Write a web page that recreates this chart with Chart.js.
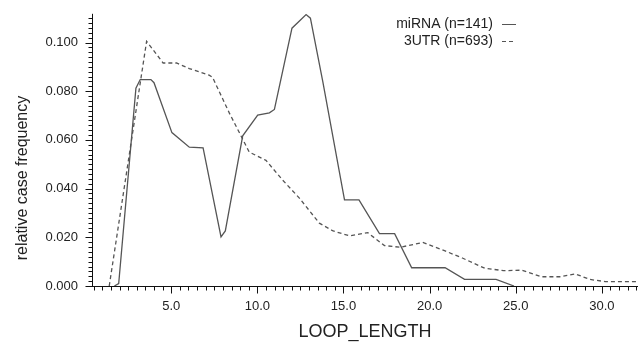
<!DOCTYPE html>
<html><head><meta charset="utf-8">
<script src="https://cdn.jsdelivr.net/npm/chart.js@4/dist/chart.umd.min.js"></script>
<style>html,body{margin:0;padding:0;background:#fff;}#wrap{width:639px;height:343px;}</style>
</head><body><div id="wrap"><canvas id="c" width="639" height="343"></canvas></div>
<script>
const seriesLabels = ['miRNA (n=141)', '3UTR (n=693)'];
const mirnaX = [1.7, 1.95, 2.95, 3.2, 3.82, 4.0, 5.04, 6.05, 6.85, 7.89, 8.14, 9.15, 10.02, 10.7, 10.99, 12.01, 12.83, 13.08, 13.8, 15.06, 15.9, 17.09, 17.97, 18.96, 20.9, 22.03, 23.86, 24.9];
const mirnaY = [0, 0.001, 0.0812, 0.0848, 0.0848, 0.0835, 0.063, 0.057, 0.0567, 0.0202, 0.0226, 0.0617, 0.0702, 0.0711, 0.0725, 0.1059, 0.1115, 0.110, 0.0839, 0.0354, 0.0354, 0.0215, 0.0215, 0.0075, 0.0075, 0.0027, 0.0027, 0];
const utrX = [1.4, 3.57, 4.53, 5.31, 6.05, 7.2, 7.4, 8.37, 9.53, 10.5, 11.47, 12.44, 13.6, 14.4, 15.35, 16.41, 17.38, 18.3, 19.6, 20.9, 21.9, 23.2, 24.3, 25.35, 26.5, 27.6, 28.45, 29.3, 30.2, 32.1];
const utrY = [0, 0.1005, 0.0916, 0.0916, 0.0893, 0.0866, 0.0857, 0.0711, 0.055, 0.0516, 0.0435, 0.0361, 0.0258, 0.0226, 0.0206, 0.0219, 0.0166, 0.0159, 0.0179, 0.0144, 0.0115, 0.0073, 0.0063, 0.0065, 0.0038, 0.0038, 0.005, 0.0027, 0.0018, 0.0018];
const xTitle = 'LOOP_LENGTH';
const yTitle = 'relative case frequency';

const toPts = (xs, ys) => xs.map((x, i) => ({x: x, y: ys[i]}));
const FONT = 'Liberation Sans, Arial, sans-serif';
const INK = '#222';
const LINE = '#555';

const axisPlugin = {
  id: 'axisTicks',
  afterDraw(chart) {
    const ctx = chart.ctx, xs = chart.scales.x, ys = chart.scales.y;
    const a = chart.chartArea;
    const bx = Math.round(a.bottom) + 0.5, lx0 = Math.round(a.left) + 0.5;
    ctx.save();
    ctx.strokeStyle = '#111';
    ctx.lineWidth = 1;
    ctx.beginPath();
    ctx.moveTo(lx0 - 3, bx); ctx.lineTo(a.right, bx);
    ctx.moveTo(lx0, a.top); ctx.lineTo(lx0, bx);
    // x ticks every 0.5
    for (let k = Math.ceil(xs.min * 2); k <= Math.floor(xs.max * 2); k++) {
      const v = k / 2;
      const px = Math.round(xs.getPixelForValue(v)) + 0.5;
      const major = k % 10 === 0;
      ctx.moveTo(px, bx); ctx.lineTo(px, bx + (major ? 7 : 4));
    }
    // y ticks every 0.002
    for (let k = 0; k * 0.002 <= ys.max + 1e-9; k++) {
      const v = k * 0.002;
      const py = Math.round(ys.getPixelForValue(v)) + 0.5;
      const major = k % 10 === 0;
      ctx.moveTo(lx0, py); ctx.lineTo(lx0 - (major ? 7 : 4), py);
    }
    ctx.stroke();
    // y axis title
    ctx.fillStyle = INK;
    ctx.font = '16px ' + FONT;
    ctx.textAlign = 'center';
    ctx.textBaseline = 'middle';
    ctx.save();
    ctx.translate(23, 178);
    ctx.rotate(-Math.PI / 2);
    ctx.fillText(yTitle, 0, 0);
    ctx.restore();
    // legend
    ctx.font = '14px ' + FONT;
    ctx.textAlign = 'right';
    const lx = 493, ly = [24, 41];
    chart.data.datasets.forEach((ds, i) => {
      ctx.fillStyle = INK;
      ctx.fillText(ds.label, lx, ly[i]);
      ctx.strokeStyle = LINE;
      ctx.lineWidth = 1;
      ctx.setLineDash(ds.borderDash || []);
      ctx.beginPath();
      ctx.moveTo(502, ly[i] + 0.5); ctx.lineTo(516, ly[i] + 0.5);
      ctx.stroke();
    });
    ctx.restore();
  }
};

new Chart(document.getElementById('c'), {
  type: 'line',
  data: {
    datasets: [
      {label: seriesLabels[0], data: toPts(mirnaX, mirnaY), borderColor: LINE, borderWidth: 1.3, pointRadius: 0, tension: 0, fill: false},
      {label: seriesLabels[1], data: toPts(utrX, utrY), borderColor: LINE, borderWidth: 1.3, borderDash: [4, 3], pointRadius: 0, tension: 0, fill: false}
    ]
  },
  options: {
    responsive: false,
    animation: false,
    layout: {padding: {left: 0, right: 1, top: 9, bottom: 0}},
    plugins: {legend: {display: false}, tooltip: {enabled: false}},
    scales: {
      x: {
        type: 'linear', min: 0.4, max: 32.1,
        grid: {display: false}, border: {display: false},
        ticks: {stepSize: 5, includeBounds: false, autoSkip: false, maxRotation: 0, padding: 5, color: INK, font: {family: FONT, size: 13}, callback: v => Number(v).toFixed(1)},
        title: {display: true, text: xTitle, color: INK, font: {family: FONT, size: 18}, padding: {top: 8, bottom: 0}},
        afterFit: s => { s.height = 57; }
      },
      y: {
        type: 'linear', min: 0, max: 0.1118,
        grid: {display: false}, border: {display: false},
        ticks: {stepSize: 0.02, includeBounds: false, padding: 6, color: INK, font: {family: FONT, size: 13}, callback: v => Number(v).toFixed(3)},
        title: {display: false},
        afterFit: s => { s.width = 92; }
      }
    }
  },
  plugins: [axisPlugin]
});
</script></body></html>
